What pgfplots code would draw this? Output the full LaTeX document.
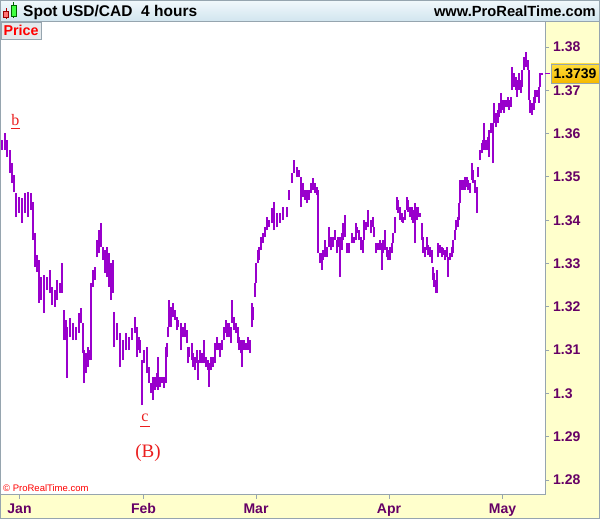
\documentclass[border=0pt]{standalone}
\usepackage{pgfplots}
\pgfplotsset{compat=1.18}
\usepackage{pgfplotstable}
\usepackage{fontspec}
\setmainfont{Liberation Sans}
\newfontfamily\seriffont{Liberation Serif}
\definecolor{barcol}{RGB}{153,0,204}
\definecolor{ticklab}{RGB}{102,0,102}
\definecolor{yellowbg}{RGB}{255,255,204}
\definecolor{bordergray}{RGB}{150,165,175}
\definecolor{titletop}{RGB}{242,249,252}
\definecolor{titlebot}{RGB}{208,228,238}
\definecolor{pricebox}{RGB}{228,233,236}
\definecolor{goldtop}{RGB}{255,222,60}
\definecolor{goldbot}{RGB}{245,185,0}
\definecolor{annred}{RGB}{235,30,30}

\pgfplotstableread{
x lo hi
2 1.3562 1.3585
5 1.3562 1.3601
7 1.3546 1.3585
10 1.3509 1.3562
12 1.3486 1.3532
14 1.3465 1.3504
16 1.3407 1.3463
19 1.3417 1.3454
22 1.3394 1.3451
25 1.3417 1.3463
28 1.3407 1.3465
31 1.3424 1.3463
33 1.3354 1.3442
35 1.3292 1.3370
37 1.3280 1.3320
39 1.3209 1.3308
41 1.3216 1.3269
44 1.3186 1.3273
47 1.3239 1.3269
50 1.3232 1.3285
52 1.3204 1.3246
55 1.3200 1.3239
57 1.3216 1.3262
60 1.3232 1.3255
62 1.3232 1.3301
64 1.3123 1.3193
66 1.3123 1.3170
67 1.3036 1.3153
70 1.3130 1.3174
73 1.3123 1.3163
76 1.3123 1.3153
79 1.3140 1.3186
81 1.3163 1.3197
83 1.3093 1.3163
84 1.3024 1.3100
86 1.3047 1.3093
88 1.3061 1.3107
90 1.3077 1.3100
91 1.3077 1.3255
93 1.3246 1.3285
95 1.3262 1.3292
97 1.3315 1.3354
99 1.3324 1.3377
101 1.3338 1.3394
103 1.3308 1.3338
105 1.3278 1.3331
107 1.3269 1.3338
109 1.3246 1.3324
111 1.3216 1.3301
113 1.3232 1.3308
114 1.3107 1.3188
117 1.3123 1.3163
120 1.3061 1.3140
123 1.3077 1.3123
126 1.3100 1.3140
129 1.3100 1.3130
132 1.3123 1.3151
135 1.3140 1.3176
137 1.3084 1.3153
139 1.3100 1.3130
140 1.3093 1.3123
142 1.2973 1.3077
144 1.3070 1.3100
147 1.3047 1.3107
149 1.3024 1.3061
151 1.3001 1.3024
153 1.2985 1.3038
155 1.3008 1.3038
157 1.3015 1.3047
158 1.3008 1.3084
160 1.3015 1.3038
162 1.3024 1.3038
164 1.3012 1.3038
166 1.3024 1.3107
167 1.3084 1.3116
168 1.3130 1.3153
169 1.3153 1.3216
171 1.3153 1.3200
173 1.3176 1.3209
175 1.3170 1.3193
177 1.3146 1.3176
178 1.3153 1.3170
181 1.3100 1.3163
183 1.3130 1.3153
185 1.3130 1.3163
187 1.3116 1.3146
188 1.3070 1.3107
189 1.3084 1.3107
192 1.3077 1.3116
193 1.3061 1.3093
195 1.3054 1.3084
197 1.3070 1.3100
198 1.3031 1.3077
200 1.3070 1.3100
202 1.3070 1.3093
204 1.3070 1.3123
206 1.3061 1.3084
208 1.3054 1.3077
209 1.3015 1.3070
211 1.3054 1.3084
213 1.3061 1.3084
215 1.3070 1.3116
217 1.3100 1.3130
218 1.3100 1.3116
220 1.3084 1.3116
222 1.3100 1.3123
224 1.3123 1.3153
226 1.3140 1.3170
227 1.3130 1.3163
229 1.3130 1.3163
231 1.3116 1.3153
232 1.3163 1.3216
234 1.3146 1.3176
236 1.3140 1.3163
238 1.3116 1.3153
239 1.3100 1.3130
241 1.3093 1.3123
242 1.3061 1.3123
244 1.3100 1.3123
246 1.3100 1.3116
248 1.3100 1.3130
250 1.3093 1.3123
252 1.3153 1.3209
253 1.3170 1.3200
255 1.3223 1.3255
256 1.3255 1.3301
258 1.3301 1.3331
259 1.3308 1.3338
261 1.3331 1.3361
263 1.3347 1.3370
265 1.3361 1.3384
267 1.3377 1.3407
269 1.3384 1.3400
272 1.3394 1.3428
274 1.3377 1.3442
277 1.3384 1.3417
280 1.3394 1.3417
283 1.3400 1.3430
287 1.3407 1.3430
289 1.3447 1.3470
292 1.3486 1.3509
294 1.3509 1.3539
297 1.3500 1.3523
299 1.3500 1.3516
301 1.3430 1.3500
303 1.3454 1.3486
305 1.3447 1.3470
307 1.3440 1.3470
309 1.3447 1.3470
311 1.3463 1.3486
313 1.3470 1.3498
315 1.3463 1.3486
317 1.3458 1.3477
318 1.3324 1.3470
320 1.3301 1.3324
322 1.3285 1.3324
323 1.3308 1.3331
325 1.3315 1.3354
327 1.3315 1.3338
329 1.3338 1.3384
331 1.3331 1.3361
333 1.3338 1.3361
335 1.3354 1.3377
337 1.3324 1.3354
338 1.3338 1.3361
340 1.3269 1.3361
342 1.3331 1.3370
343 1.3354 1.3394
345 1.3361 1.3412
347 1.3324 1.3347
349 1.3324 1.3347
352 1.3347 1.3370
354 1.3347 1.3361
356 1.3354 1.3394
357 1.3370 1.3384
359 1.3354 1.3377
361 1.3331 1.3361
363 1.3324 1.3354
364 1.3354 1.3400
366 1.3377 1.3396
368 1.3384 1.3424
371 1.3370 1.3400
373 1.3384 1.3407
374 1.3361 1.3384
376 1.3324 1.3347
378 1.3331 1.3347
380 1.3331 1.3354
382 1.3285 1.3347
383 1.3324 1.3354
385 1.3331 1.3377
387 1.3315 1.3338
388 1.3308 1.3331
390 1.3308 1.3338
392 1.3324 1.3347
393 1.3347 1.3370
395 1.3370 1.3407
397 1.3424 1.3454
398 1.3417 1.3447
400 1.3400 1.3430
402 1.3396 1.3417
403 1.3394 1.3407
405 1.3400 1.3424
407 1.3424 1.3454
408 1.3419 1.3447
410 1.3407 1.3430
412 1.3400 1.3430
413 1.3394 1.3424
415 1.3347 1.3440
417 1.3400 1.3430
418 1.3407 1.3430
420 1.3407 1.3417
422 1.3354 1.3394
423 1.3324 1.3361
425 1.3315 1.3338
427 1.3331 1.3361
428 1.3320 1.3342
430 1.3315 1.3338
432 1.3301 1.3331
433 1.3262 1.3292
434 1.3246 1.3278
436 1.3232 1.3262
437 1.3232 1.3285
438 1.3315 1.3347
440 1.3324 1.3342
442 1.3315 1.3338
443 1.3320 1.3336
445 1.3308 1.3331
447 1.3315 1.3338
448 1.3269 1.3315
450 1.3308 1.3324
452 1.3315 1.3338
453 1.3324 1.3354
455 1.3354 1.3377
456 1.3377 1.3400
458 1.3384 1.3407
459 1.3400 1.3440
460 1.3440 1.3493
462 1.3470 1.3493
463 1.3470 1.3493
465 1.3470 1.3500
467 1.3477 1.3500
468 1.3470 1.3493
470 1.3463 1.3486
472 1.3493 1.3532
473 1.3486 1.3516
475 1.3463 1.3493
477 1.3417 1.3477
478 1.3500 1.3523
480 1.3539 1.3562
482 1.3555 1.3578
483 1.3569 1.3585
484 1.3562 1.3624
486 1.3562 1.3585
488 1.3562 1.3592
489 1.3546 1.3608
491 1.3601 1.3624
493 1.3532 1.3624
494 1.3624 1.3671
496 1.3615 1.3648
498 1.3624 1.3655
499 1.3638 1.3671
501 1.3648 1.3694
503 1.3655 1.3678
504 1.3648 1.3678
506 1.3661 1.3678
508 1.3661 1.3685
509 1.3655 1.3678
511 1.3661 1.3685
512 1.3701 1.3754
514 1.3708 1.3740
516 1.3701 1.3731
517 1.3685 1.3724
519 1.3701 1.3740
521 1.3694 1.3724
522 1.3708 1.3747
524 1.3747 1.3777
526 1.3754 1.3788
528 1.3747 1.3770
529 1.3678 1.3747
530 1.3648 1.3678
532 1.3643 1.3671
534 1.3655 1.3685
535 1.3671 1.3701
537 1.3685 1.3701
539 1.3671 1.3708
540 1.3708 1.3740
542 1.3735 1.3740
}\pricedata

\begin{document}
\begin{tikzpicture}
\useasboundingbox (0pt,0pt) rectangle (600pt,519pt);
\fill[white] (0pt,0pt) rectangle (600pt,519pt);
\fill[yellowbg] (545pt,0pt) rectangle (600pt,497pt);
\fill[yellowbg] (0pt,0pt) rectangle (545pt,24pt);
\shade[top color=titletop, bottom color=titlebot] (0pt,497pt) rectangle (600pt,519pt);
\draw[bordergray, line width=1pt] (0pt,497pt) -- (600pt,497pt);

\begin{axis}[
  at={(1pt,24pt)}, anchor=south west, scale only axis,
  width=544pt, height=473pt,
  xmin=1, xmax=545, ymin=1.27654, ymax=1.38577,
  axis line style={draw=bordergray, line width=1pt},
  xtick={19.5,143.5,256,389,502.5},
  xticklabels={Jan,Feb,Mar,Apr,May},
  ytick={1.28,1.29,1.30,1.31,1.32,1.33,1.34,1.35,1.36,1.37,1.38},
  yticklabels={1.28,1.29,1.3,1.31,1.32,1.33,1.34,1.35,1.36,1.37,1.38},
  xtick pos=bottom, ytick pos=right, yticklabel pos=right,
  tick align=outside, major tick length=4pt,
  tick style={draw=bordergray, line width=0.8pt},
  xticklabel style={font=\fontsize{14}{16}\selectfont\bfseries, text=ticklab, anchor=base, yshift=-15pt, inner sep=0pt},
  yticklabel style={font=\fontsize{14}{16}\selectfont\bfseries, text=ticklab, anchor=west, inner sep=0pt, xshift=4pt},
  scaled y ticks=false,
]
\addplot [draw=none, mark=none, forget plot, line width=2.8pt,
  error bars/.cd, y dir=plus, y explicit, error mark=none,
  error bar style={draw=barcol, line width=2.8pt}]
  table [x=x, y=lo, y error expr=\thisrow{hi}-\thisrow{lo}] {\pricedata};
\end{axis}

% current price marker
\draw[barcol, line width=1pt] (545pt,445.6pt) -- (550pt,445.6pt);
\node[draw=bordergray, line width=0.8pt, top color=goldtop, bottom color=goldbot,
  minimum width=48pt, minimum height=19pt, inner sep=0pt,
  font=\fontsize{14}{16}\selectfont\bfseries] at (575pt,445.5pt) {1.3739};

% title bar
\fill[red!70!black] (5.5pt,500pt) rectangle (6.3pt,511pt);
\draw[draw=red!60!black, fill=red!55] (3pt,502pt) rectangle (8.5pt,508pt);
\fill[green!40!black] (13.2pt,501pt) rectangle (14pt,517pt);
\draw[draw=green!40!black, fill=green!75] (11pt,503pt) rectangle (16pt,514pt);
\node[anchor=base west, inner sep=0pt] at (23pt,502pt) {\fontsize{15.5}{18}\selectfont\bfseries Spot USD/CAD};
\node[anchor=base west, inner sep=0pt] at (141pt,502pt) {\fontsize{15.5}{18}\selectfont\bfseries 4 hours};
\node[anchor=base east, inner sep=0pt] at (596pt,502pt) {\fontsize{14.7}{18}\selectfont\bfseries www.ProRealTime.com};

% Price label
\draw[bordergray, fill=pricebox, line width=0.8pt] (1.5pt,480pt) rectangle (41pt,497pt);
\node[anchor=base west, inner sep=0pt, text=red] at (3.3pt,483.3pt) {\fontsize{14.3}{16}\selectfont\bfseries Price};

% copyright
\node[anchor=base west, inner sep=0pt, text=red] at (3pt,27pt) {\fontsize{9.5}{11}\selectfont \textcopyright\ ProRealTime.com};

% wave annotations
\node[anchor=base, inner sep=0pt, text=annred] at (15.5pt,393pt) {\seriffont\fontsize{16}{18}\selectfont b};
\draw[annred, line width=1pt] (11pt,390pt) -- (20pt,390pt);
\node[anchor=base, inner sep=0pt, text=annred] at (145pt,97pt) {\seriffont\fontsize{16}{18}\selectfont c};
\draw[annred, line width=1pt] (140pt,92pt) -- (150pt,92pt);
\node[anchor=base, inner sep=0pt, text=annred] at (148pt,61pt) {\seriffont\fontsize{19}{22}\selectfont (B)};

\draw[bordergray, line width=1pt] (0.5pt,0.5pt) rectangle (599.5pt,518.5pt);
\end{tikzpicture}
\end{document}
